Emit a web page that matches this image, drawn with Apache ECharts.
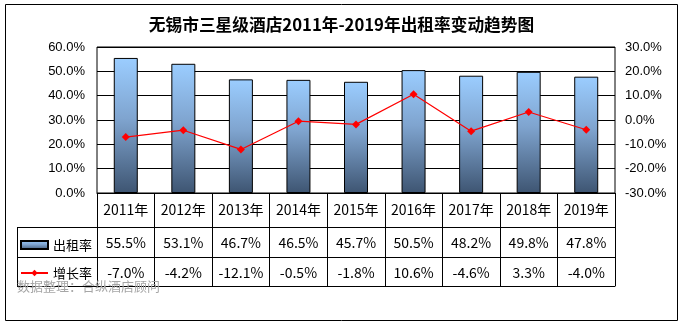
<!DOCTYPE html>
<html>
<head>
<meta charset="utf-8">
<script src="https://cdn.jsdelivr.net/npm/echarts@6/dist/echarts.min.js"></script>
<style>
html,body{margin:0;padding:0;background:#fff;}
#c{width:683px;height:324px;}
</style>
</head>
<body>
<div id="c"></div>
<script>
var years = ['2011年','2012年','2013年','2014年','2015年','2016年','2017年','2018年','2019年'];
var occupancy = [55.5, 53.1, 46.7, 46.5, 45.7, 50.5, 48.2, 49.8, 47.8];
var growth = [-7.0, -4.2, -12.1, -0.5, -1.8, 10.6, -4.6, 3.3, -4.0];
var leftTicks = [0, 10, 20, 30, 40, 50, 60];
var rightTicks = [-30, -20, -10, 0, 10, 20, 30];
var titleText = '无锡市三星级酒店2011年-2019年出租率变动趋势图';
var sourceText = '数据整理：合纵酒店顾问';

var pct = function (v) { return v.toFixed(1) + '%'; };
var occLabels = occupancy.map(pct);
var growLabels = growth.map(pct);

var FONT_AX = 'Liberation Sans, Arial, sans-serif';
var FONT_CN = 'Noto Sans CJK SC, sans-serif';

var chart = echarts.init(document.getElementById('c'), null, {renderer: 'canvas'});

function rowAxis(data, offset, tickLen, margin, showLabel) {
  return {
    type: 'category',
    position: 'bottom',
    gridIndex: 0,
    offset: offset,
    data: data,
    boundaryGap: true,
    axisLine: {show: true, onZero: false, lineStyle: {color: '#000', width: 1}},
    axisTick: {show: tickLen > 0, interval: 0, inside: false, length: tickLen, lineStyle: {color: '#000', width: 1}},
    axisLabel: {show: showLabel, interval: 0, margin: margin, color: '#000', fontFamily: FONT_CN, fontSize: 14, lineHeight: 16},
    splitLine: {show: false}
  };
}

var option = {
  backgroundColor: '#fff',
  animation: false,
  title: {
    text: titleText,
    left: 'center',
    top: 11,
    textStyle: {fontFamily: FONT_CN, fontSize: 16.7, fontWeight: 'bold', color: '#000'}
  },
  legend: {
    orient: 'vertical',
    left: 20,
    top: 237,
    padding: 0,
    itemWidth: 27,
    itemHeight: 8,
    itemGap: 12,
    textStyle: {fontFamily: FONT_CN, fontSize: 13, color: '#000', lineHeight: 16},
    data: [{name: '出租率', icon: 'rect'}, {name: '增长率'}]
  },
  grid: {
    left: 97, right: 68, top: 47, bottom: 131,
    show: true, borderColor: '#000', borderWidth: 1, backgroundColor: '#fff'
  },
  xAxis: [
    rowAxis(years, 0, 93, 9, true),
    rowAxis(occLabels, 34, 0, 8, true),
    rowAxis(growLabels, 64, 0, 8, true),
    rowAxis(years, 93, 0, 0, false)
  ],
  yAxis: [
    {
      type: 'value', min: leftTicks[0], max: leftTicks[leftTicks.length - 1], interval: 10,
      axisLine: {show: false}, axisTick: {show: false},
      axisLabel: {margin: 12, color: '#000', fontFamily: FONT_AX, fontSize: 13, formatter: function (v) { return pct(v); }},
      splitLine: {show: true, lineStyle: {color: '#000', width: 1}}
    },
    {
      type: 'value', min: rightTicks[0], max: rightTicks[rightTicks.length - 1], interval: 10,
      axisLine: {show: false}, axisTick: {show: false},
      axisLabel: {margin: 10, color: '#000', fontFamily: FONT_AX, fontSize: 13, formatter: function (v) { return pct(v); }},
      splitLine: {show: false}
    }
  ],
  series: [
    {
      name: '出租率',
      type: 'bar',
      xAxisIndex: 0, yAxisIndex: 0,
      barWidth: 24,
      data: occupancy,
      itemStyle: {
        color: new echarts.graphic.LinearGradient(0, 0, 0, 1, [
          {offset: 0, color: '#9bcdff'},
          {offset: 0.45, color: '#7fa4cf'},
          {offset: 1, color: '#3e5572'}
        ]),
        borderColor: '#000', borderWidth: 1
      }
    },
    {
      name: '增长率',
      type: 'line',
      xAxisIndex: 0, yAxisIndex: 1,
      data: growth,
      symbol: 'diamond',
      symbolSize: 8,
      lineStyle: {color: '#ff0000', width: 1.2},
      itemStyle: {color: '#ff0000'},
      z: 5
    }
  ],
  graphic: [
    {type: 'rect', shape: {x: 5.5, y: 4.5, width: 672, height: 316}, style: {fill: 'none', stroke: '#000', lineWidth: 1}, z: 100},
    {type: 'line', shape: {x1: 17, y1: 227.5, x2: 97, y2: 227.5}, style: {stroke: '#000', lineWidth: 1}},
    {type: 'line', shape: {x1: 17, y1: 257.5, x2: 97, y2: 257.5}, style: {stroke: '#000', lineWidth: 1}},
    {type: 'line', shape: {x1: 17, y1: 286.5, x2: 97, y2: 286.5}, style: {stroke: '#000', lineWidth: 1}},
    {type: 'line', shape: {x1: 17.5, y1: 227, x2: 17.5, y2: 287}, style: {stroke: '#000', lineWidth: 1}},
    {type: 'text', left: 17, top: 280, style: {text: sourceText, fill: '#a6a6a6', font: '13px Noto Sans CJK SC, sans-serif'}, z: 50}
  ]
};
chart.setOption(option);
</script>
</body>
</html>
